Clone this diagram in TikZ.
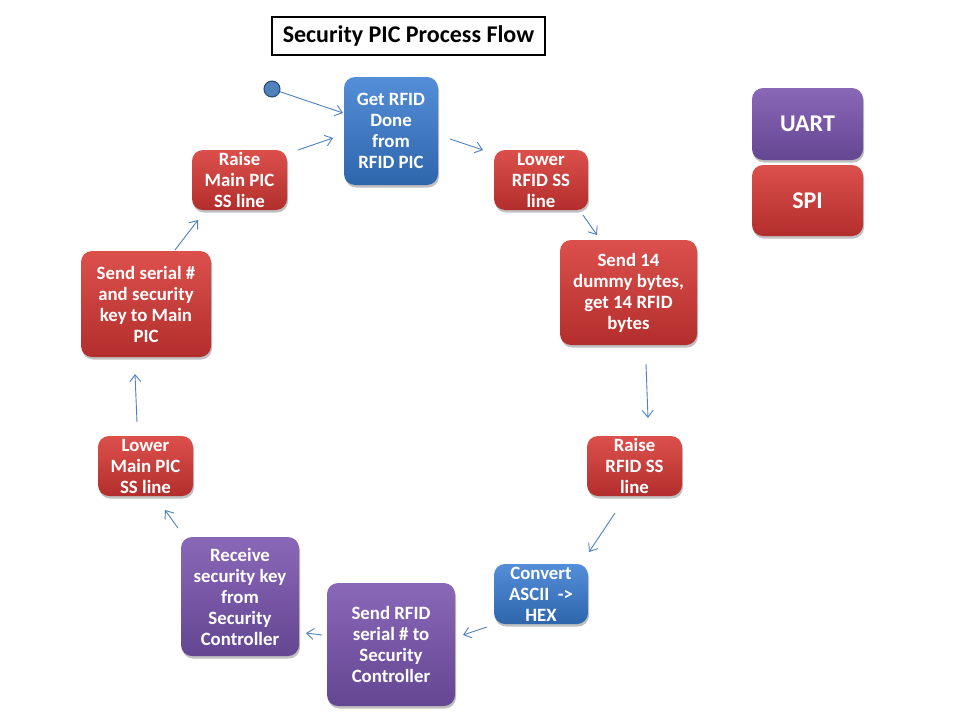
\documentclass[tikz,border=0pt]{standalone}
\usepackage{fontspec}
\setmainfont{Carlito}
\usetikzlibrary{arrows.meta,shadows}
\definecolor{bluetop}{RGB}{84,142,216}
\definecolor{bluebot}{RGB}{46,102,172}
\definecolor{redtop}{RGB}{220,80,76}
\definecolor{redbot}{RGB}{178,46,44}
\definecolor{purtop}{RGB}{138,104,184}
\definecolor{purbot}{RGB}{100,70,146}
\definecolor{conncol}{RGB}{79,129,189}
\definecolor{dotfill}{RGB}{79,129,189}
\definecolor{dotline}{RGB}{40,70,110}
\begin{document}
\begin{tikzpicture}[x=1pt,y=-1pt,
  box/.style={rounded corners=11pt, align=center, text=white, inner sep=0pt,
    font=\fontsize{18.8}{21}\selectfont\bfseries,
    drop shadow={shadow xshift=1pt, shadow yshift=-2.5pt, opacity=0.35, fill=black!70}},
  bluebox/.style={box, top color=bluetop, bottom color=bluebot},
  redbox/.style={box, top color=redtop, bottom color=redbot},
  purbox/.style={box, top color=purtop, bottom color=purbot},
  conn/.style={draw=conncol, line width=0.9pt, -{Straight Barb[length=7pt,width=11pt]}}
]
\useasboundingbox (0,0) rectangle (960,720);
\fill[white] (0,0) rectangle (960,720);

\node[draw=black, line width=1.6pt, fill=white, minimum width=273pt, minimum height=38pt,
  inner sep=0pt, font=\fontsize{24}{28}\selectfont\bfseries] (title) at (408.5,36) {Security PIC Process Flow};

\node[circle, fill=dotfill, draw=dotline, line width=1pt, minimum size=16pt, inner sep=0pt] (start) at (272,89) {};

\node[bluebox, minimum width=94pt, minimum height=108pt] (getrfid) at (391,131) {Get RFID\\Done\\from\\RFID PIC};
\node[redbox, minimum width=94pt, minimum height=60pt] (lowerrfid) at (541,180) {Lower\\RFID SS\\line};
\node[redbox, minimum width=137pt, minimum height=105pt] (send14) at (628.5,292.5) {Send 14\\dummy bytes,\\get 14 RFID\\bytes};
\node[redbox, minimum width=95pt, minimum height=60pt] (raiserfid) at (634.5,466) {Raise\\RFID SS\\line};
\node[bluebox, minimum width=94pt, minimum height=60pt] (convert) at (541,594) {Convert\\ASCII\ \ ->\\HEX};
\node[purbox, minimum width=128pt, minimum height=123pt] (sendserial) at (391,644.5) {Send RFID\\serial \# to\\Security\\Controller};
\node[purbox, minimum width=118pt, minimum height=119pt] (receive) at (240,596.5) {Receive\\security key\\from\\Security\\Controller};
\node[redbox, minimum width=95pt, minimum height=60pt] (lowermain) at (145.5,466) {Lower\\Main PIC\\SS line};
\node[redbox, minimum width=130pt, minimum height=106pt] (sendkey) at (146,304) {Send serial \#\\and security\\key to Main\\PIC};
\node[redbox, minimum width=95pt, minimum height=60pt] (raisemain) at (239.5,180) {Raise\\Main PIC\\SS line};

\node[purbox, minimum width=111pt, minimum height=72pt, font=\fontsize{24}{28}\selectfont\bfseries] (uart) at (807.5,124) {UART};
\node[redbox, minimum width=111pt, minimum height=71pt, font=\fontsize{24}{28}\selectfont\bfseries] (spi) at (807.5,200.5) {SPI};

% connector end points
\coordinate (a1e) at (343,113);
\coordinate (a2s) at (450,139);  \coordinate (a2e) at (483,150);
\coordinate (a3s) at (583,215);  \coordinate (a3e) at (597,235);
\coordinate (a4s) at (646,364);  \coordinate (a4e) at (648,418);
\coordinate (a5s) at (615,513);  \coordinate (a5e) at (589,552);
\coordinate (a6s) at (487,627);  \coordinate (a6e) at (463,635);
\coordinate (a7s) at (322,635);  \coordinate (a7e) at (306,633);
\coordinate (a8s) at (178,528);  \coordinate (a8e) at (165,510);
\coordinate (a9s) at (137,422);  \coordinate (a9e) at (135,374);
\coordinate (a10s) at (175,250); \coordinate (a10e) at (198,220);
\coordinate (a11s) at (298,150); \coordinate (a11e) at (333,138);

\draw[conn] (start) -- (a1e);
\draw[conn] (a2s) -- (a2e);
\draw[conn] (a3s) -- (a3e);
\draw[conn] (a4s) -- (a4e);
\draw[conn] (a5s) -- (a5e);
\draw[conn] (a6s) -- (a6e);
\draw[conn] (a7s) -- (a7e);
\draw[conn] (a8s) -- (a8e);
\draw[conn] (a9s) -- (a9e);
\draw[conn] (a10s) -- (a10e);
\draw[conn] (a11s) -- (a11e);
\end{tikzpicture}
\end{document}
